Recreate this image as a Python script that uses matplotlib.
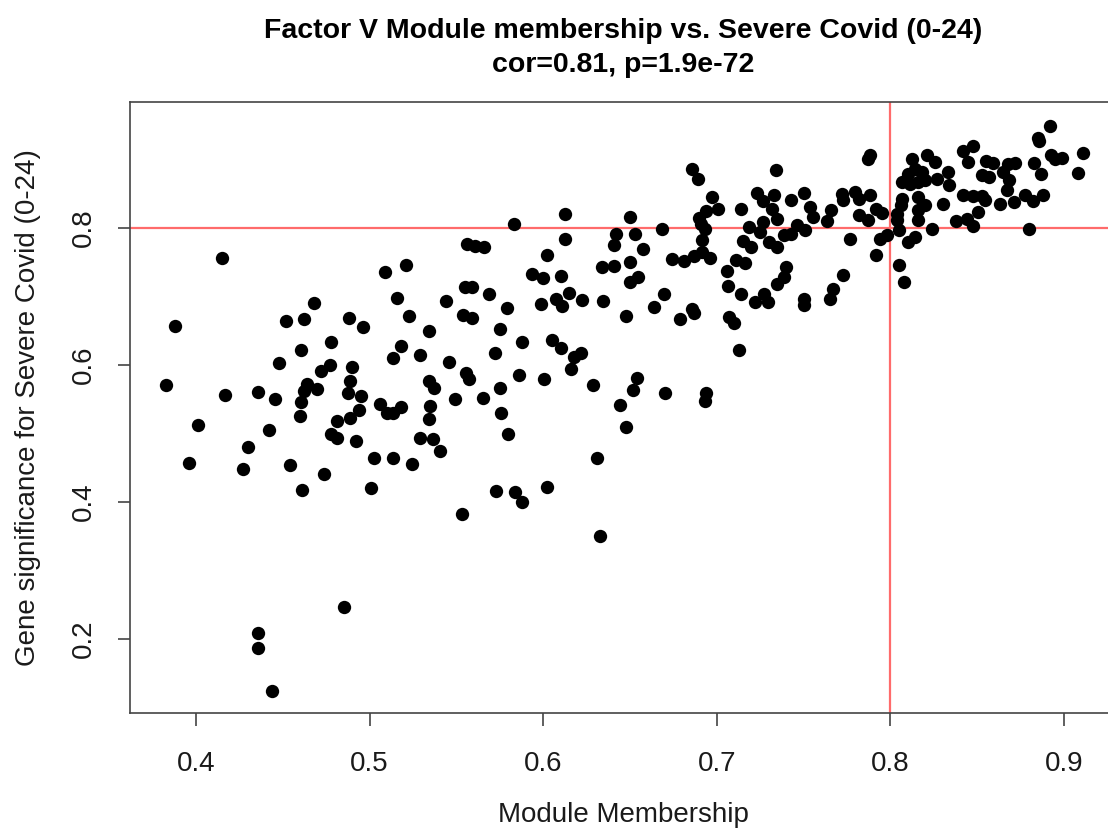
import matplotlib
matplotlib.use("Agg")
import matplotlib.pyplot as plt

# Module membership (x) and gene significance (y) per gene
module_membership = [
    0.415, 0.468, 0.509, 0.388, 0.452, 0.462, 0.488, 0.496, 0.478, 0.4605,
    0.448, 0.472, 0.477, 0.490, 0.383, 0.417, 0.436, 0.4455, 0.464, 0.462,
    0.470, 0.489, 0.4875, 0.495, 0.506, 0.4605, 0.460, 0.481, 0.494, 0.489,
    0.401, 0.442, 0.478, 0.481, 0.492, 0.430, 0.396, 0.427, 0.454, 0.474,
    0.5025, 0.461, 0.501, 0.485, 0.436, 0.436, 0.444, 0.553, 0.633, 0.523,
    0.554, 0.559, 0.579, 0.611, 0.648, 0.534, 0.575, 0.518, 0.5135, 0.529,
    0.546, 0.572, 0.588, 0.605, 0.610, 0.618, 0.622, 0.616, 0.5555, 0.557,
    0.586, 0.6005, 0.629, 0.534, 0.537, 0.575, 0.549, 0.5655, 0.535, 0.510,
    0.5135, 0.518, 0.534, 0.576, 0.644, 0.648, 0.580, 0.529, 0.5365, 0.5405,
    0.5135, 0.5245, 0.631, 0.573, 0.584, 0.588, 0.602, 0.583, 0.6125, 0.6125,
    0.642, 0.641, 0.556, 0.561, 0.566, 0.602, 0.521, 0.5935, 0.600, 0.610,
    0.634, 0.641, 0.555, 0.559, 0.569, 0.516, 0.544, 0.599, 0.6075, 0.615,
    0.6225, 0.6345, 0.686, 0.689, 0.734, 0.697, 0.701, 0.723, 0.7265, 0.733,
    0.743, 0.714, 0.732, 0.735, 0.650, 0.694, 0.690, 0.691, 0.693, 0.6685,
    0.7185, 0.7265, 0.725, 0.653, 0.6915, 0.715, 0.720, 0.730, 0.735, 0.739,
    0.6575, 0.650, 0.674, 0.681, 0.687, 0.6915, 0.696, 0.711, 0.716, 0.706,
    0.740, 0.6545, 0.650, 0.739, 0.735, 0.7065, 0.714, 0.6695, 0.722, 0.727,
    0.7295, 0.664, 0.686, 0.679, 0.687, 0.707, 0.710, 0.750, 0.713, 0.654,
    0.652, 0.670, 0.694, 0.693, 0.788, 0.787, 0.8125, 0.821, 0.826, 0.814,
    0.818, 0.810, 0.807, 0.8115, 0.816, 0.820, 0.827, 0.833, 0.834, 0.750,
    0.772, 0.773, 0.7795, 0.782, 0.788, 0.754, 0.7555, 0.766, 0.7635, 0.782,
    0.787, 0.792, 0.795, 0.807, 0.806, 0.804, 0.804, 0.816, 0.816, 0.816,
    0.820, 0.8305, 0.746, 0.751, 0.743, 0.805, 0.824, 0.777, 0.794, 0.798,
    0.810, 0.814, 0.792, 0.805, 0.808, 0.773, 0.767, 0.765, 0.750, 0.892,
    0.885, 0.8855, 0.911, 0.8925, 0.895, 0.899, 0.883, 0.908, 0.887, 0.8475,
    0.842, 0.845, 0.855, 0.859, 0.868, 0.872, 0.865, 0.853, 0.857, 0.8685,
    0.867, 0.842, 0.8475, 0.853, 0.8545, 0.8775, 0.888, 0.882, 0.863, 0.871,
    0.8505, 0.838, 0.844, 0.8475, 0.880,
]
gene_significance = [
    0.756, 0.690, 0.736, 0.657, 0.664, 0.667, 0.669, 0.655, 0.634, 0.622,
    0.603, 0.591, 0.600, 0.597, 0.571, 0.556, 0.561, 0.550, 0.572, 0.562,
    0.565, 0.577, 0.559, 0.555, 0.543, 0.546, 0.526, 0.518, 0.534, 0.523,
    0.512, 0.505, 0.499, 0.493, 0.489, 0.480, 0.457, 0.448, 0.454, 0.441,
    0.464, 0.417, 0.420, 0.247, 0.209, 0.187, 0.124, 0.382, 0.350, 0.672,
    0.673, 0.669, 0.683, 0.686, 0.672, 0.650, 0.653, 0.628, 0.610, 0.6145,
    0.604, 0.6175, 0.634, 0.6365, 0.625, 0.612, 0.6175, 0.594, 0.588, 0.5795,
    0.585, 0.5795, 0.571, 0.577, 0.566, 0.566, 0.550, 0.552, 0.540, 0.530,
    0.530, 0.539, 0.521, 0.530, 0.542, 0.509, 0.499, 0.493, 0.492, 0.474,
    0.464, 0.4555, 0.464, 0.416, 0.4145, 0.400, 0.422, 0.806, 0.820, 0.784,
    0.791, 0.775, 0.777, 0.774, 0.772, 0.7605, 0.746, 0.733, 0.727, 0.730,
    0.743, 0.7445, 0.714, 0.714, 0.7035, 0.698, 0.693, 0.689, 0.696, 0.705,
    0.695, 0.6935, 0.886, 0.8715, 0.885, 0.845, 0.828, 0.851, 0.8395, 0.848,
    0.841, 0.828, 0.828, 0.813, 0.816, 0.825, 0.8145, 0.806, 0.7985, 0.7985,
    0.8015, 0.809, 0.794, 0.791, 0.7825, 0.781, 0.772, 0.7795, 0.772, 0.790,
    0.769, 0.750, 0.755, 0.752, 0.759, 0.765, 0.756, 0.753, 0.749, 0.737,
    0.743, 0.7285, 0.721, 0.7285, 0.718, 0.715, 0.7035, 0.7035, 0.692, 0.7035,
    0.692, 0.685, 0.682, 0.667, 0.676, 0.670, 0.661, 0.6875, 0.622, 0.581,
    0.5635, 0.559, 0.559, 0.5475, 0.9065, 0.901, 0.901, 0.9065, 0.896, 0.886,
    0.882, 0.879, 0.867, 0.864, 0.867, 0.870, 0.8715, 0.882, 0.863, 0.851,
    0.850, 0.841, 0.8525, 0.842, 0.848, 0.8305, 0.816, 0.826, 0.810, 0.819,
    0.812, 0.828, 0.822, 0.842, 0.8335, 0.820, 0.812, 0.845, 0.826, 0.812,
    0.8335, 0.835, 0.804, 0.797, 0.791, 0.797, 0.7985, 0.784, 0.784, 0.790,
    0.7795, 0.787, 0.7605, 0.746, 0.721, 0.7315, 0.711, 0.696, 0.696, 0.949,
    0.9315, 0.927, 0.9095, 0.9065, 0.901, 0.902, 0.895, 0.880, 0.879, 0.920,
    0.9125, 0.896, 0.898, 0.895, 0.8935, 0.895, 0.882, 0.8775, 0.8745, 0.870,
    0.8555, 0.848, 0.847, 0.847, 0.841, 0.848, 0.848, 0.8395, 0.835, 0.838,
    0.823, 0.810, 0.813, 0.803, 0.7985,
]

threshold_mm = 0.8
threshold_gs = 0.8
x_ticks = [0.4, 0.5, 0.6, 0.7, 0.8, 0.9]
y_ticks = [0.2, 0.4, 0.6, 0.8]

title_text = "Factor V Module membership vs. Severe Covid (0-24)\ncor=0.81, p=1.9e-72"
x_label = "Module Membership"
y_label = "Gene significance for Severe Covid (0-24)"

plt.rcParams["font.family"] = ["Liberation Sans", "DejaVu Sans"]

W, H = 1108, 830
fig = plt.figure(figsize=(W / 100, H / 100), dpi=100)
fig.patch.set_facecolor("white")

# axes box extends slightly past the right edge of the canvas
left_px, right_px, top_px, bottom_px = 130, 1116, 102, 713
ax = fig.add_axes([left_px / W, 1 - bottom_px / H,
                   (right_px - left_px) / W, (bottom_px - top_px) / H])

ax.plot(module_membership, gene_significance, linestyle="none", marker="o",
        markersize=9.6, markerfacecolor="black", markeredgewidth=0, zorder=3)

ax.axvline(threshold_mm, color="#ff6b6b", linewidth=1.6, zorder=2)
ax.axhline(threshold_gs, color="#ff6b6b", linewidth=1.6, zorder=2)

ax.set_xlim(0.362, 0.930)
ax.set_ylim(0.092, 0.984)
ax.set_xticks(x_ticks)
ax.set_yticks(y_ticks)
ax.set_xticklabels([f"{v:.1f}" for v in x_ticks])
ax.set_yticklabels([f"{v:.1f}" for v in y_ticks], rotation=90, va="center")

for sp in ax.spines.values():
    sp.set_color("#444444")
    sp.set_linewidth(1.2)
ax.tick_params(axis="both", direction="out", length=9, width=1.2,
               color="#444444", labelsize=20, labelcolor="#1a1a1a")
ax.tick_params(axis="x", pad=18)
ax.tick_params(axis="y", pad=15)

fig.text((left_px + right_px) / 2 / W, 1 - 815 / H, x_label,
         ha="center", va="center", fontsize=20, color="#1a1a1a")
fig.text(28 / W, 1 - (top_px + bottom_px) / 2 / H, y_label,
         ha="center", va="center", rotation=90, fontsize=20, color="#1a1a1a")
fig.text((left_px + right_px) / 2 / W, 1 - 48 / H, title_text,
         ha="center", va="center", fontsize=20.5, fontweight="bold",
         linespacing=1.45, color="black")

fig.savefig("out.png", dpi=100, facecolor="white")
